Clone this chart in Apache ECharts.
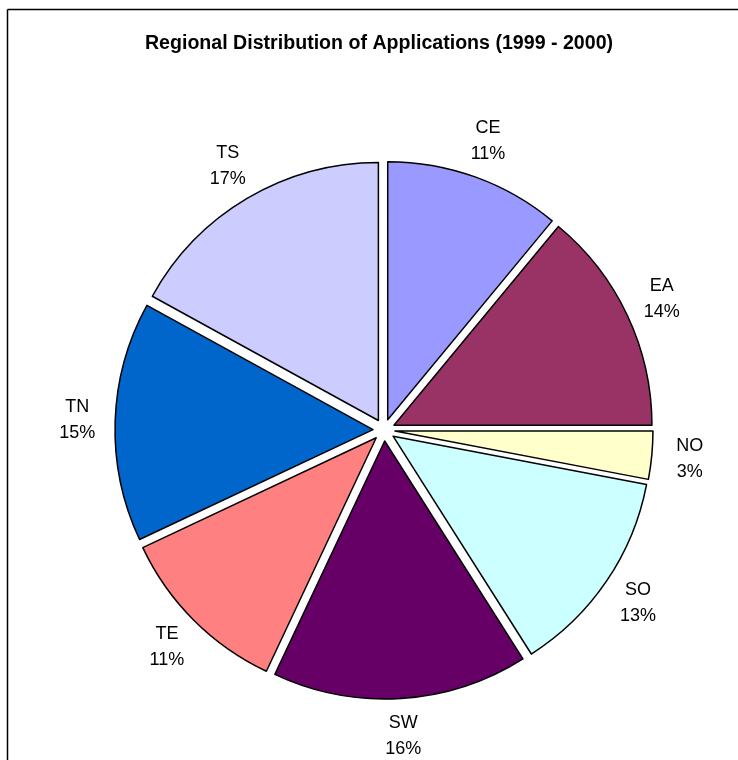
<!DOCTYPE html>
<html>
<head>
<meta charset="utf-8">
<script src="https://cdn.jsdelivr.net/npm/echarts@6/dist/echarts.min.js"></script>
<style>
html,body{margin:0;padding:0;background:#fff;}
#chart{width:738px;height:760px;}
</style>
</head>
<body>
<div id="chart"></div>
<script>
var regions = ['CE', 'EA', 'NO', 'SO', 'SW', 'TE', 'TN', 'TS'];
var shares = [11, 14, 3, 13, 16, 11, 15, 17];
var sliceColors = ['#9999FF', '#993366', '#FFFFCC', '#CCFFFF', '#660066', '#FF8080', '#0066CC', '#CCCCFF'];

var font = 'Liberation Sans, Arial, sans-serif';
var center = [384, 430];

var pieData = regions.map(function (r, i) {
  return { name: r, value: shares[i], selected: true, itemStyle: { color: sliceColors[i] } };
});
var labelData = regions.map(function (r, i) {
  return { name: r, value: shares[i] };
});

var chart = echarts.init(document.getElementById('chart'), null, { renderer: 'canvas' });
chart.setOption({
  animation: false,
  backgroundColor: '#ffffff',
  title: {
    text: 'Regional Distribution of Applications (1999 - 2000)',
    left: 374,
    textAlign: 'center',
    top: 29,
    textStyle: { fontFamily: font, fontSize: 19.6, fontWeight: 'bold', color: '#000' }
  },
  graphic: [
    { type: 'line', shape: { x1: 7.5, y1: 9.5, x2: 738, y2: 9.5 }, style: { stroke: '#000', lineWidth: 1.5 } },
    { type: 'line', shape: { x1: 7.5, y1: 9.5, x2: 7.5, y2: 760 }, style: { stroke: '#000', lineWidth: 1.5 } }
  ],
  series: [
    {
      type: 'pie',
      center: center,
      radius: [0, 258],
      startAngle: 90,
      clockwise: true,
      selectedMode: 'multiple',
      selectedOffset: 11,
      avoidLabelOverlap: false,
      silent: true,
      emphasis: { disabled: true },
      itemStyle: { borderColor: '#000', borderWidth: 1.5 },
      select: { itemStyle: { borderColor: '#000', borderWidth: 1.5 } },
      label: { show: false },
      labelLine: { show: false },
      data: pieData
    },
    {
      type: 'pie',
      center: center,
      radius: [284, 324],
      startAngle: 90,
      clockwise: true,
      silent: true,
      percentPrecision: 0,
      avoidLabelOverlap: false,
      emphasis: { disabled: true },
      itemStyle: { color: 'rgba(0,0,0,0)', borderWidth: 0 },
      label: {
        show: true,
        position: 'inside',
        formatter: '{b}\n{d}%',
        fontFamily: font,
        fontSize: 18,
        lineHeight: 26,
        color: '#000',
        align: 'center'
      },
      labelLine: { show: false },
      data: labelData
    }
  ]
});
</script>
</body>
</html>
